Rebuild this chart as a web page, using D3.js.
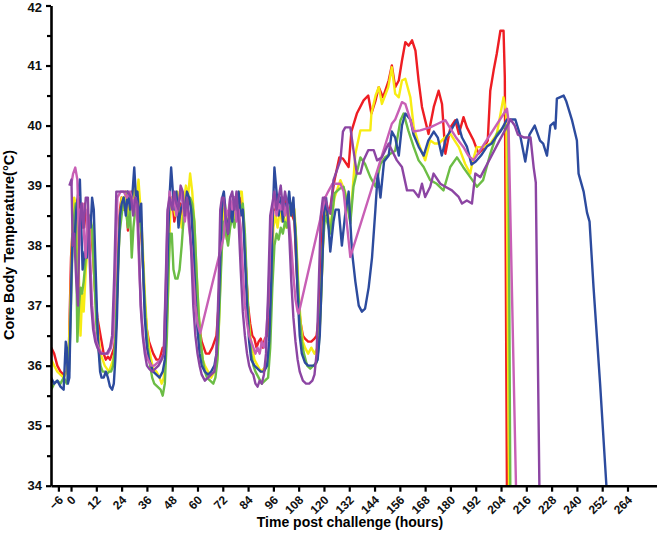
<!DOCTYPE html>
<html lang="en">
<head>
<meta charset="UTF-8">
<title>Core body temperature</title>
<script src="https://cdn.jsdelivr.net/npm/d3@7"></script>
<style>
  body { margin: 0; background: #fff; }
  svg { display: block; }
</style>
</head>
<body>
<script>
    var width = 657;
    var height = 537;

    // x tick labels (hours) and y ticks (deg C)
    var hourTicks = [-6, 0, 12, 24, 36, 48, 60, 72, 84, 96, 108, 120, 132, 144, 156, 168, 180, 192, 204, 216, 228, 240, 252, 264];
    var tempTicks = [34, 35, 36, 37, 38, 39, 40, 41, 42];

    // each series: [hour, temperature]
    var redData = [[-9.4,36.3],[-8,36.2],[-6.5,36.0],[-5,35.9],[-3.5,35.85],[-2,35.9],[-1,36.3],[0,37.8],[0.8,38.3],[1.5,38.1],[2.5,38.7],[3.5,38.8],[4.5,38.5],[5.5,38.3],[6.5,38.7],[7.5,38.3],[8.5,38.5],[9.5,38.3],[10.5,37.8],[11.5,37.2],[12.5,36.8],[13.5,36.6],[14.5,36.4],[15.5,36.2],[16.5,36.1],[17.5,36.15],[18.5,36.1],[19.5,36.2],[20.5,36.3],[21.3,36.6],[22.3,37.8],[23.2,38.6],[24,38.8],[25,38.6],[26,38.8],[27,38.25],[28,38.7],[29,38.9],[30,38.7],[31,38.9],[32,38.7],[33,38.4],[34,37.8],[35,37.0],[36,36.6],[37,36.4],[38,36.3],[39,36.2],[40.5,36.1],[42,36.1],[43.5,36.3],[44.5,36.2],[45.5,36.9],[46.3,38.0],[47,38.7],[48,38.8],[49,38.4],[50,38.6],[51,38.5],[52,38.7],[53,38.3],[54,38.8],[55,38.6],[56,38.8],[57,38.7],[58,38.2],[59,37.6],[60,37.0],[61,36.6],[62,36.4],[63,36.3],[64,36.2],[65.5,36.2],[67,36.3],[68,36.4],[69,36.5],[70,37.0],[71,38.0],[72,38.6],[73,38.6],[74,38.1],[75,38.4],[76,38.6],[77,38.5],[78,38.8],[79,38.6],[80,38.8],[81,38.7],[82,38.3],[83,37.6],[84,37.0],[85,36.7],[86,36.5],[87,36.45],[88,36.3],[89,36.4],[90,36.45],[91,36.3],[92,36.45],[93,36.5],[94,36.8],[95,37.8],[96,38.6],[97,38.6],[98,38.8],[99,38.5],[100,38.8],[101,38.6],[102,38.8],[103,38.4],[104,38.6],[105,38.5],[106,38.4],[107,37.6],[108,37.0],[109,36.7],[110,36.5],[111,36.45],[112.5,36.4],[114,36.4],[115.5,36.45],[116.5,36.5],[117.5,36.8],[118.5,37.6],[119.5,38.5],[120.5,38.8],[121.5,38.5],[123,38.64],[125,39.09],[127.3,39.47],[129,39.45],[131.7,39.31],[133,39.9],[135.6,40.2],[138.8,40.42],[141,40.5],[142.5,40.2],[144.5,40.42],[146,40.64],[148,40.47],[150.7,40.75],[152.2,41.0],[153.8,40.64],[155.5,40.75],[157,41.08],[158.6,41.39],[160.2,41.33],[161.8,41.42],[163.4,41.25],[164.9,40.75],[166.5,40.31],[168,40.09],[169.6,39.86],[172.1,40.31],[174.4,40.58],[176,40.36],[177.6,39.53],[180,39.97],[182.3,40.09],[184,39.86],[186.2,40.14],[187.8,39.97],[191,39.75],[193.3,39.53],[196.1,39.64],[197.7,39.75],[198.9,40.58],[200.5,40.92],[202,41.2],[203.7,41.58],[205.2,41.58],[205.8,40.8],[206.8,34.0]];

    var yellowData = [[-9.4,36.1],[-8,36.0],[-6.5,35.9],[-5,35.85],[-3.5,35.8],[-2,35.9],[-1,36.3],[0,37.4],[0.8,38.5],[1.5,38.8],[2.5,38.6],[3.5,37.8],[4.5,36.5],[5.3,37.2],[6,36.9],[7,37.6],[8,38.0],[9,38.4],[10,38.3],[11,37.5],[12,36.9],[13,36.5],[14,36.2],[15,36.1],[16,36.0],[17,35.95],[18,35.9],[19,36.0],[20,36.1],[21,36.3],[22,37.3],[23,38.3],[24,38.8],[25,38.6],[26,38.9],[27,38.5],[28,38.7],[29,38.6],[30,39.0],[31,38.7],[32,39.1],[33,38.6],[34,38.0],[35,37.2],[36,36.6],[37,36.3],[38,36.1],[39,35.95],[40.5,35.9],[42,35.8],[43,35.7],[44,35.8],[45,36.3],[46,37.2],[46.8,38.3],[47.5,38.8],[48.5,38.7],[49.5,38.5],[50.5,38.9],[51.5,38.6],[52.5,38.3],[53.5,38.7],[54.5,39.0],[55.5,38.8],[56.5,39.2],[57.5,38.9],[58.5,38.4],[59.5,37.6],[60.5,36.9],[61.5,36.4],[62.5,36.1],[63.5,36.0],[65,35.9],[66.5,35.8],[68,35.9],[69,36.0],[70,36.5],[71,37.6],[72,38.4],[73,38.7],[74,38.3],[75,38.5],[76,38.7],[77,38.4],[78,38.8],[79,38.5],[80,38.9],[81,38.9],[82,38.4],[83,37.6],[84,36.9],[85,36.5],[86,36.3],[87,36.1],[88.5,36.0],[90,35.9],[91.5,35.95],[93,36.0],[94,36.3],[95,37.3],[96,38.3],[97,38.5],[98,38.3],[99,38.6],[100,38.4],[101,38.5],[102,38.3],[103,38.6],[104,38.5],[105,38.7],[106,38.6],[107,38.0],[108,37.2],[109,36.7],[110,36.4],[111,36.3],[112.5,36.2],[114,36.3],[115.5,36.2],[117,36.3],[118,36.6],[119,37.5],[120,38.4],[121,38.7],[122,38.5],[123,38.31],[125,38.8],[127.8,39.09],[130,38.9],[132.5,38.42],[134.9,39.53],[137.3,39.92],[140,39.92],[142,39.92],[142.5,40.2],[144.5,40.5],[146,40.64],[147.5,40.36],[149,40.5],[150.5,40.64],[152.2,40.97],[153.8,40.53],[155.5,40.47],[157,40.75],[158.6,40.78],[161,40.47],[162.6,39.97],[164.9,39.7],[168,39.42],[170.4,39.75],[172.5,39.7],[174.5,39.7],[177.6,39.81],[180,39.86],[182,39.75],[184,39.64],[187,39.36],[189.4,39.2],[190.5,39.4],[192.5,39.64],[195.5,39.64],[198.9,39.7],[202,39.86],[205.2,40.47],[206.5,40.2],[207.8,34.0]];

    var greenData = [[-9.4,35.6],[-8,35.7],[-6.5,35.75],[-5,35.7],[-3.5,35.8],[-2,35.7],[-1,35.9],[0,37.0],[0.7,38.0],[1.5,38.5],[2.2,38.7],[3,36.4],[3.8,37.0],[4.5,37.3],[5.2,37.2],[6,37.4],[7,37.8],[8,38.2],[9,38.5],[10,38.3],[11,37.5],[12,36.7],[13,36.3],[14,36.0],[15,35.9],[16,35.9],[17,35.85],[18,35.9],[19,35.9],[20,36.0],[21,36.4],[22,37.4],[23,38.2],[24,38.5],[25,38.8],[26,38.6],[27,38.3],[28,38.6],[28.8,37.8],[29.6,38.3],[30.5,38.6],[31.5,38.5],[32.5,38.5],[33.5,38.2],[34.5,37.4],[35.5,36.7],[36.5,36.3],[37.5,36.0],[38.5,35.8],[39.5,35.7],[41,35.65],[42.5,35.6],[43.5,35.5],[44.5,35.7],[45.5,36.5],[46.3,37.6],[47,38.2],[47.8,38.2],[48.6,37.6],[49.5,37.45],[50.5,37.45],[51.5,37.6],[52.5,38.0],[53.5,38.5],[54.5,38.6],[55.5,38.8],[56.5,38.8],[57.5,38.7],[58.5,38.4],[59.5,37.6],[60.5,36.9],[61.5,36.4],[62.5,36.1],[63.5,35.9],[64.5,35.8],[66,35.75],[67.5,35.7],[68.5,35.8],[69.5,36.1],[70.5,37.0],[71.5,37.9],[72.5,38.4],[73.5,38.2],[74.5,38.0],[75.5,38.3],[76.5,38.5],[77.5,38.3],[78.5,38.6],[79.5,38.7],[80.5,38.6],[81.5,38.7],[82.5,38.2],[83.5,37.3],[84.5,36.6],[85.5,36.2],[86.5,36.0],[87.5,35.9],[89,35.8],[90.5,35.7],[92,35.75],[93.5,35.8],[94.5,36.3],[95.5,37.3],[96.5,38.0],[97.5,38.2],[98.5,38.1],[99.5,38.3],[100.5,38.2],[101.5,38.4],[102.5,38.3],[103.5,38.6],[104.5,38.7],[105.5,38.6],[106.5,38.3],[107.5,37.5],[108.5,36.8],[109.5,36.4],[110.5,36.2],[112,36.0],[113.5,35.95],[115,36.0],[116.5,36.05],[117.5,36.3],[118.5,37.0],[119.5,38.0],[120.5,38.5],[121.5,38.4],[123,38.2],[125,38.87],[127.5,38.95],[129.3,38.98],[131,38.7],[132.5,38.37],[134,38.98],[137.3,39.47],[139.5,39.36],[142,39.14],[144.5,38.98],[146.8,39.36],[149,39.47],[151.5,39.53],[153.8,39.58],[156.3,40.09],[157.8,40.2],[160,39.92],[162.6,39.64],[164.9,39.42],[167.3,39.31],[170.4,39.09],[173.5,39.03],[176.7,38.92],[179.9,39.31],[183.1,39.47],[186,39.31],[189.4,39.14],[192.6,38.98],[195.5,39.09],[198.9,39.53],[202,39.86],[203.7,39.92],[206.5,40.0],[207.5,39.9],[208.4,34.0]];

    var blueData = [[-9.4,35.8],[-8,35.7],[-6.5,35.75],[-5,35.65],[-3.5,35.6],[-3,36.0],[-2.5,36.4],[-2,36.3],[-1.5,35.7],[-0.8,35.8],[0.2,37.5],[0.8,38.2],[1.5,38.0],[2.5,38.6],[3.5,38.9],[4.2,39.1],[4.8,38.4],[5.5,37.6],[6.5,37.9],[7.5,37.8],[8.5,38.3],[9.3,38.3],[10,38.8],[10.8,38.6],[11.5,37.8],[12.3,36.9],[13,36.3],[13.8,35.9],[14.5,35.8],[15.5,35.8],[16.5,35.9],[17.5,35.8],[18.5,35.65],[19.5,35.6],[20.3,35.7],[21,36.1],[21.8,36.8],[22.5,37.8],[23.2,38.5],[24,38.7],[25,38.8],[26,38.5],[27,38.9],[28,38.6],[29,38.8],[30,39.3],[30.8,38.8],[31.5,38.9],[32.5,38.4],[33.3,38.7],[34,37.8],[35,36.8],[36,36.3],[37,36.1],[38,36.0],[39,35.9],[40.5,35.85],[42,35.8],[43.5,35.9],[44.5,36.1],[45.3,37.0],[46,38.0],[46.7,38.8],[47.5,39.3],[48.3,38.9],[49,38.6],[50,38.9],[51,38.3],[52,38.6],[53,38.7],[54,38.6],[55,38.9],[56,38.8],[57,38.6],[58,38.0],[59,37.2],[60,36.6],[61,36.2],[62,36.0],[63.5,35.9],[65,35.85],[66.5,35.9],[68,36.0],[69,36.2],[70,36.9],[71,38.0],[71.8,38.8],[72.5,38.9],[73.5,38.5],[74.5,38.2],[75.5,38.7],[76.5,38.4],[77.5,38.8],[78.5,38.6],[79.5,38.9],[80.5,38.5],[81.5,38.6],[82.5,37.8],[83.5,37.0],[84.5,36.4],[85.5,36.1],[87,36.0],[88.5,35.95],[90,35.9],[91.5,35.9],[93,36.0],[94,36.4],[95,37.4],[95.8,38.6],[96.5,39.3],[97.5,38.9],[98.5,38.5],[99.5,38.8],[100.5,38.4],[101.5,38.7],[102.5,38.6],[103.5,38.9],[104.5,38.5],[105.5,38.8],[106.5,38.1],[107.5,37.2],[108.5,36.5],[109.5,36.2],[111,36.05],[112.5,36.0],[114,36.0],[115.5,36.0],[117,36.1],[118,36.5],[119,37.5],[120,38.5],[121,38.8],[122,38.4],[123,37.9],[124.5,38.4],[125.5,38.6],[127,38.6],[128.5,38.0],[130,38.5],[131.7,38.9],[133.3,37.9],[134.9,37.4],[136.5,37.0],[138,36.9],[139.5,36.95],[141.2,37.3],[142.8,37.8],[144.4,38.6],[145.5,39.2],[146.8,38.8],[148.5,39.4],[150.7,39.5],[152.2,39.9],[153.8,39.8],[155.5,39.5],[157,40.0],[158.6,40.2],[161,40.1],[162.5,39.85],[164.9,39.65],[167.3,39.5],[169.5,39.75],[172.1,39.9],[174,39.8],[175.9,39.5],[178,39.8],[180.7,39.95],[183.1,40.1],[185.5,39.8],[187.8,39.65],[190,39.35],[192,39.4],[194.5,39.5],[197.3,39.65],[199.5,39.7],[201.5,39.8],[203.7,39.9],[206.8,40.1],[208.4,40.1],[210.8,40.1],[213,39.85],[215.5,39.4],[217.5,39.85],[220,40.0],[222.5,39.75],[224,39.7],[225.8,39.5],[227.4,40.0],[229,40.05],[229.8,39.95],[230.5,40.45],[233.7,40.5],[235,40.4],[237.6,40.1],[240,39.75],[240.8,39.2],[243.2,38.9],[244.8,38.55],[246,38.4],[247.9,37.3],[251,35.7],[254,34.0]];

    var pinkData = [[0,39.0],[1,39.2],[2,39.3],[3,39.1],[3.8,38.0],[4.5,38.6],[5.5,38.7],[6.3,38.1],[7,37.8],[7.8,38.6],[8.5,38.4],[9.3,37.6],[10,37.0],[11,36.6],[12,36.4],[13,36.3],[14.5,36.2],[16,36.2],[17.5,36.2],[19,36.3],[20,36.5],[21,37.6],[22,38.8],[23.5,38.9],[25,38.9],[26.5,38.8],[28,38.9],[29.5,38.7],[30.5,38.8],[31.5,38.4],[32.5,37.5],[33.5,36.8],[34.5,36.4],[35.5,36.2],[36.5,36.1],[38,36.0],[39.5,36.0],[41,36.05],[42.5,36.1],[44,36.2],[45,37.3],[45.8,38.5],[46.8,38.9],[48,38.6],[49,38.8],[50,38.5],[51,38.7],[52,38.9],[53,38.7],[54,38.4],[55,38.7],[56,38.3],[57,38.0],[58,37.5],[59,37.0],[60,36.7],[61.3,36.54],[72.4,38.14],[73.5,38.6],[74.5,38.5],[75.5,38.8],[76.5,38.6],[77.5,38.8],[78.5,38.4],[79.5,38.6],[80.5,38.3],[81.5,37.6],[82.5,37.0],[83.5,36.7],[84.5,36.5],[85.5,36.4],[86.5,36.3],[87.5,36.2],[88.5,36.3],[89.5,36.2],[90.5,36.4],[91.5,36.3],[92.5,36.5],[93.5,37.0],[94.5,38.0],[95.5,38.6],[96.5,38.8],[97.5,38.5],[98.5,38.7],[99.5,38.6],[100.5,38.8],[101.5,38.5],[102.5,38.7],[103.5,38.4],[104.5,38.0],[105.5,37.5],[106.5,37.1],[107.5,36.9],[108,36.87],[120.6,38.8],[122,38.9],[124,39.03],[127.8,39.03],[129.3,38.9],[132.5,37.81],[152.2,40.03],[153.8,40.1],[155.5,40.25],[157,40.39],[158.6,40.36],[161,40.09],[162.5,39.9],[165.7,39.92],[170.4,39.97],[174,40.03],[177.6,40.09],[180,39.95],[182.5,39.81],[186.2,39.64],[188.5,39.5],[191,39.42],[206.8,40.28],[207.5,40.1],[211.1,34.0]];

    var purpleData = [[-0.8,39.0],[0.2,39.1],[0.8,38.0],[1.5,38.2],[2.5,37.4],[3.3,37.0],[4,38.3],[5,38.7],[6,38.3],[7,38.8],[8,38.8],[8.8,37.8],[9.6,37.0],[10.5,36.6],[11.5,36.4],[12.5,36.3],[14,36.2],[15.5,36.2],[17,36.2],[18.5,36.3],[19.5,36.5],[20.5,37.5],[21.5,38.9],[22.5,38.9],[24,38.9],[25.5,38.9],[27,38.9],[28.5,38.8],[29.5,38.5],[30.5,38.8],[31.5,38.7],[32.3,37.9],[33,37.0],[34,36.5],[35,36.2],[36,36.0],[37,35.95],[38.5,35.9],[40,35.95],[41.5,36.0],[43,36.1],[44,36.2],[45,37.5],[45.8,38.6],[46.8,38.8],[48,38.6],[49,38.9],[50,38.7],[51,38.6],[52,39.0],[53,38.9],[54,38.5],[55,38.8],[56,38.5],[57,37.9],[58,37.0],[59,36.5],[60,36.2],[61,36.0],[62,35.85],[63.5,35.75],[65,35.8],[66.5,35.85],[68,35.9],[69,36.2],[70,37.3],[70.8,38.6],[71.6,38.8],[72.5,38.8],[73.5,38.4],[74.5,38.2],[75.5,38.8],[76.5,38.9],[77.5,38.6],[78.5,38.9],[79.5,38.4],[80.5,37.6],[81.5,36.9],[82.5,36.5],[83.5,36.2],[84.5,36.0],[85.5,35.9],[86.5,35.85],[87.5,35.7],[88.5,35.65],[89.5,35.75],[90.5,35.7],[91.5,35.85],[92.5,36.2],[93.5,37.2],[94.5,38.5],[95.5,38.7],[96.5,38.9],[97.5,38.6],[98.5,38.8],[99.5,39.0],[100.5,38.6],[101.5,38.9],[102.5,38.7],[103.5,38.2],[104.5,37.4],[105.5,36.8],[106.5,36.4],[107.5,36.1],[108.5,35.9],[110,35.75],[111.5,35.7],[113,35.7],[114.5,35.75],[115.5,35.85],[116.5,36.2],[117.5,37.3],[118.5,38.5],[119.5,38.8],[120.5,38.8],[122,38.6],[123,38.53],[124.5,39.09],[127.8,39.42],[129,39.9],[130.1,39.97],[132.5,39.97],[133.8,39.64],[135.6,39.2],[137.3,39.2],[138.8,39.42],[141,39.59],[143.6,39.59],[145.2,39.42],[147.5,39.47],[149.1,39.59],[150.7,39.7],[152.2,39.59],[154.6,39.42],[157,39.31],[159.4,38.92],[162.5,38.92],[164.9,38.81],[166.5,39.03],[168,38.81],[170.4,38.98],[172,39.2],[175.2,39.03],[177.6,38.98],[180.7,38.92],[183.9,38.81],[185.5,38.7],[187.8,38.75],[190.2,38.7],[191.8,39.2],[194.2,39.14],[208.5,40.1],[210.5,40.0],[212,39.85],[215,39.8],[218,39.8],[219.5,39.3],[220.5,39.05],[222.2,34.0]];

    var series = [
        {name: "red", color: "#ee1d23", values: redData},
        {name: "yellow", color: "#f7ec13", values: yellowData},
        {name: "green", color: "#6cbd45", values: greenData},
        {name: "blue", color: "#2c4b9e", values: blueData},
        {name: "pink", color: "#c85fb5", values: pinkData},
        {name: "purple", color: "#8c45a3", values: purpleData}
    ];

    var svg = d3.select("body")
            .append("svg")
            .attr("width", width)
            .attr("height", height);

    var x = d3.scaleLinear().domain([-9.5, 278]).range([51, 657]);
    var y = d3.scaleLinear().domain([34, 42]).range([485.7, 5.5]);

    svg.append("clipPath").attr("id", "plot")
        .append("rect")
        .attr("x", 51).attr("y", 0)
        .attr("width", 606).attr("height", 486);

    var line = d3.line()
            .x(function (d) { return x(d[0]); })
            .y(function (d) { return y(d[1]); });

    svg.append("g")
        .attr("clip-path", "url(#plot)")
        .selectAll("path")
        .data(series)
        .enter()
        .append("path")
        .attr("fill", "none")
        .attr("stroke", function (d) { return d.color; })
        .attr("stroke-width", 2.4)
        .attr("stroke-linejoin", "round")
        .attr("d", function (d) { return line(d.values); });

    // y axis: major ticks with labels, minor half-degree ticks
    var yAxis = svg.append("g")
        .attr("transform", "translate(51,0)")
        .call(d3.axisLeft(y).tickValues(tempTicks).tickSize(5).tickSizeOuter(0).tickPadding(4).tickFormat(d3.format("d")));
    svg.append("g")
        .attr("transform", "translate(51,0)")
        .call(d3.axisLeft(y).tickValues(d3.range(34.5, 42, 1)).tickSize(4).tickFormat(""))
        .call(function (g) { g.select(".domain").remove(); });

    var xAxis = svg.append("g")
        .attr("transform", "translate(0,485.7)")
        .call(d3.axisBottom(x).tickValues(hourTicks).tickSize(6).tickSizeOuter(0).tickFormat(d3.format("d")));

    svg.selectAll(".domain").attr("stroke", "#000").attr("stroke-width", 2.6);
    svg.selectAll(".tick line").attr("stroke", "#000").attr("stroke-width", 2.2);

    yAxis.selectAll("text")
        .attr("font-family", "Arial, 'Liberation Sans', sans-serif")
        .attr("font-size", 13)
        .attr("font-weight", "bold")
        .attr("fill", "#111")
        .attr("dy", function (d) { return d === 42 ? "0.45em" : "0.32em"; });

    xAxis.selectAll("text")
        .attr("font-family", "Arial, 'Liberation Sans', sans-serif")
        .attr("font-size", 12)
        .attr("font-weight", "bold")
        .attr("fill", "#111")
        .attr("text-anchor", "end")
        .attr("dy", null)
        .attr("y", null)
        .attr("transform", "translate(5,15) rotate(-45)");

    svg.append("text")
        .attr("x", 350)
        .attr("y", 527)
        .attr("text-anchor", "middle")
        .attr("font-family", "Arial, 'Liberation Sans', sans-serif")
        .attr("font-size", 14)
        .attr("font-weight", "bold")
        .text("Time post challenge (hours)");

    svg.append("text")
        .attr("transform", "translate(14,245) rotate(-90)")
        .attr("text-anchor", "middle")
        .attr("font-family", "Arial, 'Liberation Sans', sans-serif")
        .attr("font-size", 14.5)
        .attr("font-weight", "bold")
        .text("Core Body Temperature(\u00B0C)");
</script>
</body>
</html>
